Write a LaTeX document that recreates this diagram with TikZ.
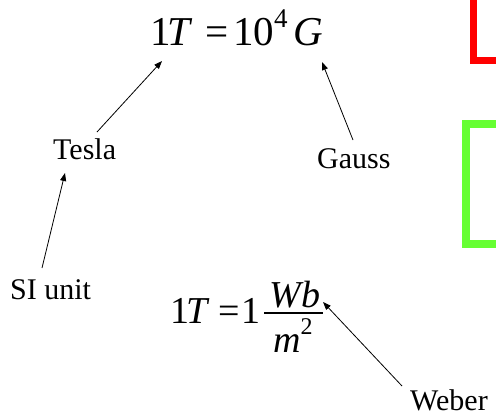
\documentclass[tikz,border=0pt]{standalone}
\usepackage{fontspec}
\setmainfont{Liberation Serif}
\usetikzlibrary{arrows.meta}
\begin{document}
\begin{tikzpicture}[x=1pt,y=-1pt,
  lbl/.style={inner sep=0pt,anchor=base west,font=\fontsize{30}{36}\selectfont},
  eqn/.style={inner sep=0pt,anchor=base west,font=\fontsize{41}{48}\selectfont},
  eqnb/.style={inner sep=0pt,font=\fontsize{38}{44}\selectfont},
  pointer/.style={-{Triangle[length=8pt,width=6pt]},line width=0.8pt,black}]
\useasboundingbox (0,0) rectangle (496,416);
% boxes at the right edge
\draw[line width=7pt,color={rgb,255:red,255;green,0;blue,0}] (473.5,-20) -- (473.5,60.5) -- (520,60.5);
\draw[line width=8pt,color={rgb,255:red,102;green,255;blue,51}] (520,124) -- (466,124) -- (466,244) -- (520,244);
% labels
\node[lbl] (tesla) at (53,159) {Tesla};
\node[lbl] (gauss) at (317,168) {Gauss};
\node[lbl] (si) at (10,299) {SI unit};
\node[lbl] (weber) at (410,410) {Weber};
% top formula
\node[eqn] (eqtop) at (150,45) {1\kern-3pt\textit{T}\kern13pt=\kern4pt10\raisebox{0.42em}{\fontsize{27}{27}\selectfont 4}\kern6pt\textit{G}};
% bottom formula
\node[eqnb,anchor=base west] (eqlhs) at (170,323) {1\kern-3pt\textit{T}\kern9pt=\kern2pt1};
\node[eqnb,anchor=base] (wb) at (295,307) {\textit{Wb}};
\node[eqnb,anchor=base] (msq) at (293,352) {\textit{m}\raisebox{0.45em}{\fontsize{24}{24}\selectfont 2}};
\coordinate (barl) at (264,313);
\coordinate (barr) at (323,313);
\draw[line width=1.2pt] (barl) -- (barr);
% arrow end points
\coordinate (t1) at (97,132);   \coordinate (h1) at (162,61);
\coordinate (t2) at (353,140);  \coordinate (h2) at (322,62);
\coordinate (t3) at (42,268);   \coordinate (h3) at (65,173);
\coordinate (t4) at (402,386);  \coordinate (h4) at (323,302);
\draw[pointer] (t1) -- (h1);
\draw[pointer] (t2) -- (h2);
\draw[pointer] (t3) -- (h3);
\draw[pointer] (t4) -- (h4);
\end{tikzpicture}
\end{document}
